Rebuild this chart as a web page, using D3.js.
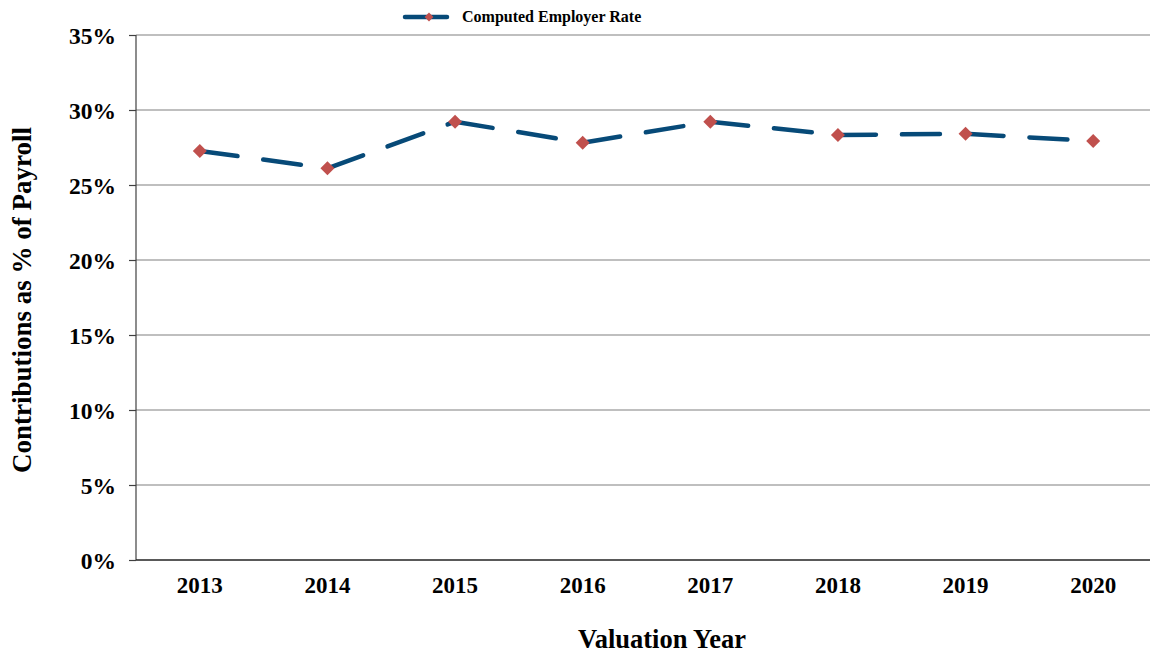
<!DOCTYPE html>
<html>
<head>
<meta charset="utf-8">
<script src="https://cdnjs.cloudflare.com/ajax/libs/d3/7.8.5/d3.min.js"></script>
<style>
  body { margin: 0; background: #fff; }
  text { font-family: "Liberation Serif", "Times New Roman", serif; font-weight: bold; }
</style>
</head>
<body>
<script>
const w = 1150;
const h = 655;
const years = ["2013", "2014", "2015", "2016", "2017", "2018", "2019", "2020"];
const employerRate = [27.27, 26.11, 29.22, 27.82, 29.22, 28.33, 28.42, 27.93];
const yTicks = [0, 5, 10, 15, 20, 25, 30, 35];
const seriesName = "Computed Employer Rate";

const lineColor = "#074a78";
const markerColor = "#c0504d";

const plotLeft = 136, plotTop = 35, plotBottom = 560, plotRight = 1150;

const xScale = d3.scaleBand()
                 .domain(years)
                 .range([plotLeft, 1157]);

const yScale = d3.scaleLinear()
                 .domain([0, 35])
                 .range([plotBottom, plotTop]);

const svg = d3.select("body")
              .append("svg")
              .attr("width", w)
              .attr("height", h);

// gridlines
svg.append("g")
   .selectAll("line")
   .data(yTicks.filter(d => d > 0))
   .enter()
   .append("line")
   .attr("x1", plotLeft)
   .attr("x2", plotRight)
   .attr("y1", d => yScale(d))
   .attr("y2", d => yScale(d))
   .attr("stroke", "#808080")
   .attr("stroke-width", 1.2);

// y axis
const yAxis = d3.axisLeft(yScale)
                .tickValues(yTicks)
                .tickSize(7)
                .tickPadding(13)
                .tickFormat(d => d + "%");

const yg = svg.append("g")
   .attr("transform", "translate(" + plotLeft + ",0)")
   .call(yAxis);
yg.select(".domain").remove();
yg.selectAll(".tick line").attr("stroke", "#404040").attr("stroke-width", 1.2);
yg.selectAll(".tick text").style("font-size", "23.5px").attr("fill", "#000").attr("dy", "0.35em");

svg.append("line")
   .attr("x1", plotLeft).attr("x2", plotLeft)
   .attr("y1", plotTop).attr("y2", plotBottom)
   .attr("stroke", "#404040").attr("stroke-width", 1.2);

// x axis
const xAxis = d3.axisBottom(xScale)
                .tickSize(0)
                .tickPadding(17);
const xg = svg.append("g")
   .attr("transform", "translate(0," + plotBottom + ")")
   .call(xAxis);
xg.select(".domain").remove();
svg.append("line")
   .attr("x1", plotLeft).attr("x2", plotRight)
   .attr("y1", plotBottom).attr("y2", plotBottom)
   .attr("stroke", "#222").attr("stroke-width", 1.4);
xg.selectAll(".tick text").style("font-size", "23px").attr("fill", "#000");

// axis titles
svg.append("text")
   .attr("x", 662)
   .attr("y", 648)
   .attr("text-anchor", "middle")
   .style("font-size", "26.5px")
   .text("Valuation Year");

svg.append("text")
   .attr("transform", "translate(31,300) rotate(-90)")
   .attr("text-anchor", "middle")
   .style("font-size", "27px")
   .text("Contributions as % of Payroll");

// series: dashes restart at each segment, as in the source
const pts = years.map((y, i) => ({ year: y, value: employerRate[i] }));
const line = d3.line()
               .x(d => xScale(d.year) + xScale.bandwidth() / 2)
               .y(d => yScale(d.value));

svg.append("g")
   .selectAll("path")
   .data(d3.pairs(pts))
   .enter()
   .append("path")
   .attr("d", d => line(d))
   .attr("fill", "none")
   .attr("stroke", lineColor)
   .attr("stroke-width", 4.5)
   .attr("stroke-linecap", "round")
   .attr("stroke-dasharray", "38,26");

const diamond = d3.symbol().type(d3.symbolDiamond2).size(125);
svg.append("g")
   .selectAll("path")
   .data(pts)
   .enter()
   .append("path")
   .attr("d", diamond)
   .attr("transform", d => "translate(" + (xScale(d.year) + xScale.bandwidth() / 2) + "," + yScale(d.value) + ")")
   .attr("fill", markerColor);

// legend
const legend = svg.append("g").attr("transform", "translate(403,17)");
legend.append("line")
      .attr("x1", 2).attr("x2", 44)
      .attr("stroke", lineColor)
      .attr("stroke-width", 4.5)
      .attr("stroke-linecap", "round");
legend.append("path")
      .attr("d", d3.symbol().type(d3.symbolDiamond2).size(50))
      .attr("transform", "translate(26,0)")
      .attr("fill", markerColor);
legend.append("text")
      .attr("x", 59)
      .attr("y", 5)
      .style("font-size", "16px")
      .text(seriesName);
</script>
</body>
</html>
